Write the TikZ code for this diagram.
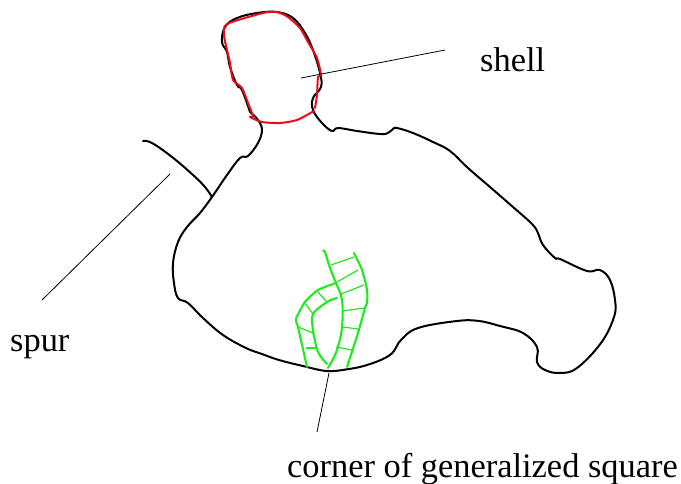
\documentclass[tikz,border=0pt]{standalone}
\usepackage{fontspec}
\setmainfont{Liberation Serif}
\definecolor{grn}{RGB}{30,235,30}
\definecolor{rd}{RGB}{235,10,25}
\tikzset{
 outline/.style={draw=black,line width=2pt,line join=round,line cap=round},
 redline/.style={draw=rd,line width=2pt,line join=round,line cap=round},
 grnline/.style={draw=grn,line width=2.1pt,line join=round,line cap=round},
 rung/.style={draw=grn,line width=1.2pt},
 leader/.style={draw=black,line width=0.8pt},
 lab/.style={font=\fontsize{34.4}{38}\selectfont,inner sep=0pt,anchor=base west,text=black}
}
\begin{document}
\begin{tikzpicture}[x=1pt,y=-1pt]
\useasboundingbox (0,0) rectangle (681,483);
% main outline
\draw[outline] plot[smooth,tension=0.65] coordinates {(250,112)(242,90)(237,85)(230,67)(227,52)(222,42)(225,27)(237,18)(257,13)(277,12)(293,18)(305,33)(313,50)(320,73)(321,87)(313,98)(313,110)(322,123)(332,131)(338,128)(357,131)(380,134)(388,133)(393,129)(397,128)(413,133)(433,142)(450,151)(468,168)(490,187)(513,207)(532,224)(538,233)(543,245)(555,258)(560,259)(587,271)(600,270)(610,280)(615,300)(614,317)(601,343)(577,368)(560,373)(545,370)(537,362)(537,347)(523,333)(500,326)(479,321)(457,321)(418,328)(401,340)(394,351)(385,358)(367,365)(349,369)(327,371)(303,366)(279,360)(262,354)(246,348)(223,335)(203,318)(188,303)(178,298)(174,283)(173,263)(178,242)(187,227)(200,213)(212,197)(227,175)(240,158)(248,156)(258,143)(262,130)(258,120)(250,112)};
% spur
\draw[outline] plot[smooth,tension=0.7] coordinates {(143,141)(152,143)(172,157)(193,175)(205,187)(212,197)};
% red shell
\draw[redline] plot[smooth,tension=0.4] coordinates {(315,108)(317,95)(318,77)(321,75)(317,58)(308,42)(300,28)(288,17)(277,12)(263,13)(227,24)(224,35)(227,50)(230,63)(233,80)(242,88)(248,103)(253,116)(250,117)(262,122)(280,123)(297,120)(314,111)};
% green
\draw[grnline] plot[smooth,tension=0.6] coordinates {(323,251)(325,252)(330,268)(336,283)(342,300)(342,327)(337,350)(328,368)};
\draw[grnline] plot[smooth,tension=0.5] coordinates {(354,253)(362,270)(367,290)(367,303)(365,308)(358,333)(347,367)};
\draw[grnline] plot[smooth,tension=0.4] coordinates {(336,283)(318,290)(305,302)(296,319)(298,327)(307,367)};
\draw[grnline] plot[smooth,tension=0.5] coordinates {(337,298)(327,302)(313,314)(313,330)(318,352)(327,364)};
\foreach \a/\b/\c/\d in {331/265/354/257,337/282/358/270,341/294/364/285,343/311/364/308,343/327/358/329,336/347/352/350,318/292/327/302,304/302/313/314,298/327/313/333,306/348/317/348}
  \draw[rung] (\a,\b) -- (\c,\d);
% labels
\node[lab] (shell) at (480,71) {shell};
\node[lab] (spur) at (10,351) {spur};
\node[lab] (corner) at (287,477) {corner of generalized square};
% leaders
\coordinate (sa) at (301,78); \coordinate (sb) at (445,50);
\coordinate (pa) at (170,174); \coordinate (pb) at (42,300);
\coordinate (ca) at (329,373); \coordinate (cb) at (317,432);
\draw[leader] (sa) -- (sb);
\draw[leader] (pa) -- (pb);
\draw[leader] (ca) -- (cb);
\end{tikzpicture}
\end{document}
